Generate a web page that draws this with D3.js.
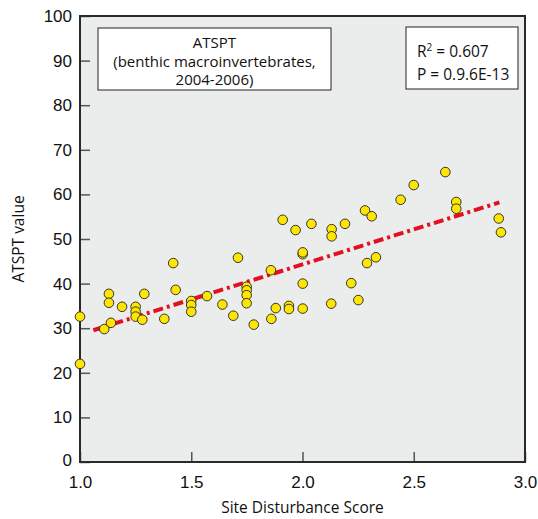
<!DOCTYPE html>
<html>
<head>
<meta charset="utf-8">
<script src="https://cdn.jsdelivr.net/npm/d3@7/dist/d3.min.js"></script>
<style>
  html, body { margin: 0; padding: 0; background: #ffffff; }
  svg { display: block; font-family: "Open Sans", "Noto Sans", sans-serif; }
</style>
</head>
<body>
<svg id="chart" width="538" height="519"></svg>
<script>
// Site disturbance score vs. ATSPT value (benthic macroinvertebrates, 2004-2006)
const disturbance = [
  1.00, 1.00, 1.109, 1.139, 1.130, 1.130, 1.189, 1.250, 1.250, 1.250,
  1.280, 1.289, 1.379, 1.419, 1.430, 1.500, 1.500, 1.500, 1.571, 1.640,
  1.689, 1.710, 1.749, 1.749, 1.749, 1.749, 1.781, 1.858, 1.860, 1.880,
  1.939, 1.939, 1.911, 1.969, 2.040, 2.131, 2.131, 2.191, 2.281, 2.311,
  2.441, 2.001, 2.001, 2.330, 2.290, 2.001, 2.219, 2.251, 2.129, 2.001,
  2.500, 2.642, 2.691, 2.691, 2.882, 2.892
];
const atsptValue = [
  32.6, 22.0, 29.8, 31.2, 37.7, 35.7, 34.8, 34.8, 33.7, 32.6,
  31.9, 37.7, 32.1, 44.6, 38.6, 36.1, 35.2, 33.7, 37.2, 35.3,
  32.8, 45.8, 39.3, 38.5, 37.4, 35.6, 30.8, 43.0, 32.1, 34.5,
  35.0, 34.3, 54.3, 52.0, 53.4, 52.2, 50.6, 53.4, 56.4, 55.1,
  58.8, 46.6, 47.0, 45.9, 44.6, 40.0, 40.1, 36.3, 35.5, 34.4,
  62.1, 65.0, 58.3, 56.8, 54.6, 51.5
];

// Least-squares fit and the span over which it is drawn
const fitSlope = 15.7;
const fitIntercept = 12.9;
const fitRange = [1.06, 2.885];

const xTicks = [1.0, 1.5, 2.0, 2.5, 3.0];
const yTicks = [0, 10, 20, 30, 40, 50, 60, 70, 80, 90, 100];

const titleLines = ["ATSPT", "(benthic macroinvertebrates,", "2004-2006)"];
const statR2 = "0.607";
const statP = "0.9.6E-13";

const svg = d3.select("#chart");
const margin = { left: 80, right: 13, top: 16, bottom: 57 };
const W = 538, H = 519;
const pw = W - margin.left - margin.right;
const ph = H - margin.top - margin.bottom;

const x = d3.scaleLinear().domain([1, 3]).range([margin.left, margin.left + pw]);
const y = d3.scaleLinear().domain([0, 100]).range([margin.top + ph, margin.top]);

// plot panel
svg.append("rect")
  .attr("x", margin.left).attr("y", margin.top)
  .attr("width", pw).attr("height", ph)
  .attr("fill", "#ebeded");

// axes with inward ticks
const xAxis = d3.axisBottom(x).tickValues(xTicks).tickFormat(d3.format(".1f"))
  .tickSizeInner(-10).tickSizeOuter(0).tickPadding(14);
const yAxis = d3.axisLeft(y).tickValues(yTicks).tickFormat(d3.format("d"))
  .tickSizeInner(-10).tickSizeOuter(0).tickPadding(8);

const gx = svg.append("g").attr("transform", `translate(0,${margin.top + ph})`).call(xAxis);
const gy = svg.append("g").attr("transform", `translate(${margin.left},0)`).call(yAxis);
[gx, gy].forEach(g => {
  g.select(".domain").remove();
  g.selectAll(".tick line").attr("stroke", "#555").attr("stroke-width", 1.5);
  g.selectAll(".tick text").attr("fill", "#111").attr("font-size", 17);
});
gy.selectAll(".tick text").filter(d => d === 0).attr("dy", "0.2em");

// frame
svg.append("rect")
  .attr("x", margin.left).attr("y", margin.top)
  .attr("width", pw).attr("height", ph)
  .attr("fill", "none").attr("stroke", "#2a2a2a").attr("stroke-width", 2);

// regression line
const line = d3.line().x(d => x(d)).y(d => y(fitIntercept + fitSlope * d));
svg.append("path")
  .datum(fitRange)
  .attr("d", line)
  .attr("fill", "none")
  .attr("stroke", "#e3101f")
  .attr("stroke-width", 4)
  .attr("stroke-dasharray", "10,4,3,4");

// points
svg.append("g").selectAll("circle")
  .data(disturbance.map((d, i) => [d, atsptValue[i]]))
  .join("circle")
  .attr("cx", d => x(d[0]))
  .attr("cy", d => y(d[1]))
  .attr("r", 4.8)
  .attr("fill", "#ffe600")
  .attr("stroke", "#333")
  .attr("stroke-width", 1);

// title box
svg.append("rect")
  .attr("x", 98).attr("y", 28).attr("width", 233).attr("height", 62)
  .attr("fill", "#ffffff").attr("stroke", "#222").attr("stroke-width", 1);
svg.append("g").selectAll("text")
  .data(titleLines)
  .join("text")
  .attr("x", 214.5)
  .attr("y", (d, i) => 48 + i * 18.5)
  .attr("text-anchor", "middle")
  .attr("font-size", 15)
  .attr("fill", "#111")
  .text(d => d);

// statistics box
svg.append("rect")
  .attr("x", 406).attr("y", 27).attr("width", 112).attr("height", 62)
  .attr("fill", "#ffffff").attr("stroke", "#222").attr("stroke-width", 1);
const r2 = svg.append("text").attr("x", 417).attr("y", 57)
  .attr("font-size", 15.5).attr("fill", "#111");
r2.append("tspan").text("R");
r2.append("tspan").attr("font-size", 10).attr("dy", -6).text("2");
r2.append("tspan").attr("dy", 6).text(" = " + statR2);
svg.append("text").attr("x", 417).attr("y", 80)
  .attr("font-size", 15.5).attr("fill", "#111")
  .text("P = " + statP);

// axis titles
svg.append("text")
  .attr("x", x(2)).attr("y", 513)
  .attr("text-anchor", "middle")
  .attr("font-size", 15.5).attr("fill", "#111")
  .text("Site Disturbance Score");
svg.append("text")
  .attr("transform", `translate(24,${y(50)}) rotate(-90)`)
  .attr("text-anchor", "middle")
  .attr("font-size", 15.5).attr("fill", "#111")
  .text("ATSPT value");
</script>
</body>
</html>
